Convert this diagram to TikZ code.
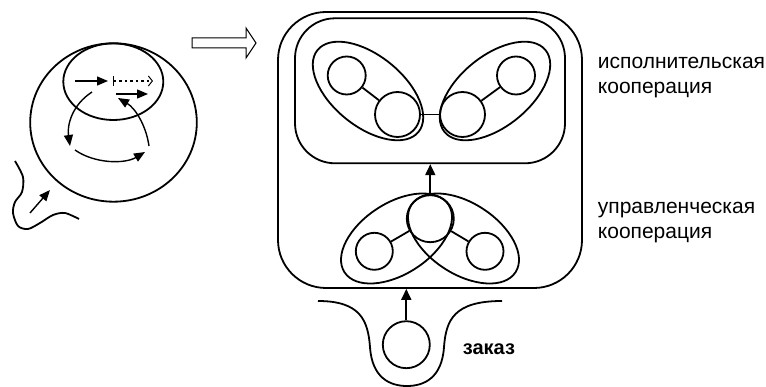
\documentclass[tikz,border=0pt]{standalone}
\usepackage{fontspec}
\setmainfont{Liberation Sans}
\usetikzlibrary{arrows.meta}
\begin{document}
\begin{tikzpicture}[x=1pt,y=-1pt,
  line width=1.8pt,
  circ/.style={draw,circle,inner sep=0pt,minimum size=#1},
  arr/.style={-{Triangle[length=11pt,width=10pt]}},
  thinarr/.style={line width=1.4pt,-{Triangle[length=11pt,width=9pt]}},
  lbl/.style={anchor=base west,inner sep=0pt,font=\fontsize{21}{25}\selectfont}]
\useasboundingbox (0,0) rectangle (766,387);

% ---------- left sketch ----------
\draw (113.5,122.5) ellipse [x radius=83.3, y radius=79.2];
\draw (113.3,81.7) ellipse [x radius=50, y radius=38.3];

\coordinate (p1) at (75,81);
\coordinate (p2) at (108,81);
\draw[thinarr] (p1) -- (p2);
\coordinate (p3) at (113,81);
\coordinate (p4) at (153,81);
\draw[line width=1.3pt, dash pattern=on 2.5pt off 3pt,
  {Bar[width=10pt,line width=1.3pt]}-{Straight Barb[length=4pt,width=10pt,line width=1pt]}] (p3) -- (p4);
\coordinate (p5) at (116,94);
\coordinate (p6) at (148,94);
\draw[thinarr] (p5) -- (p6);

\coordinate (q1) at (92,92);
\coordinate (q2) at (70,146);
\draw[thinarr] (q1) .. controls (72,105) and (67,125) .. (q2);
\coordinate (q3) at (75,150);
\coordinate (q4) at (145,152);
\draw[thinarr] (q3) .. controls (95,164) and (125,164) .. (q4);
\coordinate (q5) at (149,146);
\coordinate (q6) at (118,98);
\draw[thinarr] (q5) .. controls (146,125) and (135,108) .. (q6);

\draw plot[smooth] coordinates {(15,161) (23,177) (22,192) (15,202) (13,213) (18,226) (28,229) (40,223) (53,215) (65,213) (79,219)};
\coordinate (w1) at (30,213);
\coordinate (w2) at (50,190);
\draw[thinarr] (w1) -- (w2);

% hollow arrow
\draw[line width=1pt] (192,38) -- (246,38) -- (246,28) -- (256,43) -- (246,58) -- (246,48) -- (192,48) -- cycle;

% ---------- right diagram ----------
\node[draw, rounded corners=48pt, minimum width=304pt, minimum height=276pt, inner sep=0pt] (outer) at (430,150) {};
\node[draw, rounded corners=40pt, minimum width=270pt, minimum height=145pt, inner sep=0pt] (inner) at (430,90.8) {};

\node[circ=38pt] (a1) at (346.7,75.5) {};
\node[circ=45pt] (a2) at (397.5,114.5) {};
\node[circ=45pt] (a3) at (462.5,114.5) {};
\node[circ=38pt] (a4) at (516,75.5) {};
\draw (a1) -- (a2);
\draw (a2) -- (a3);
\draw (a3) -- (a4);
\draw[rotate around={-39:(368,91)}] (368,91) ellipse [x radius=65, y radius=35.4];
\draw[rotate around={39:(495,91)}] (495,91) ellipse [x radius=65, y radius=35.4];

\node[circ=47pt] (b0) at (430.3,218.7) {};
\node[circ=37pt] (b1) at (374.3,251.3) {};
\node[circ=37pt] (b2) at (485,251.3) {};
\draw (b1) -- (b0);
\draw (b0) -- (b2);
\draw[rotate around={33:(396.5,238.5)}] (396.5,238.5) ellipse [x radius=62, y radius=35.5];
\draw[rotate around={-33:(463.5,238.5)}] (463.5,238.5) ellipse [x radius=62, y radius=35.5];
\draw[arr] (b0) -- (b0 |- inner.south);

\node[circ=47pt] (c) at (406.3,344.7) {};
\draw[arr] (c) -- (c |- outer.south);
\draw (318,301) .. controls (360,301) and (368,320) .. (370,347)
  .. controls (372,378) and (390,386) .. (407,386)
  .. controls (424,386) and (442,378) .. (444,347)
  .. controls (446,320) and (454,301) .. (502,301);

\node[lbl] (t1) at (597,69) {исполнительская};
\node[lbl] (t2) at (597,94) {кооперация};
\node[lbl] (t3) at (597,214) {управленческая};
\node[lbl] (t4) at (597,239) {кооперация};
\node[lbl, font=\bfseries\fontsize{20}{24}\selectfont] (t5) at (462,355) {заказ};
\end{tikzpicture}
\end{document}
